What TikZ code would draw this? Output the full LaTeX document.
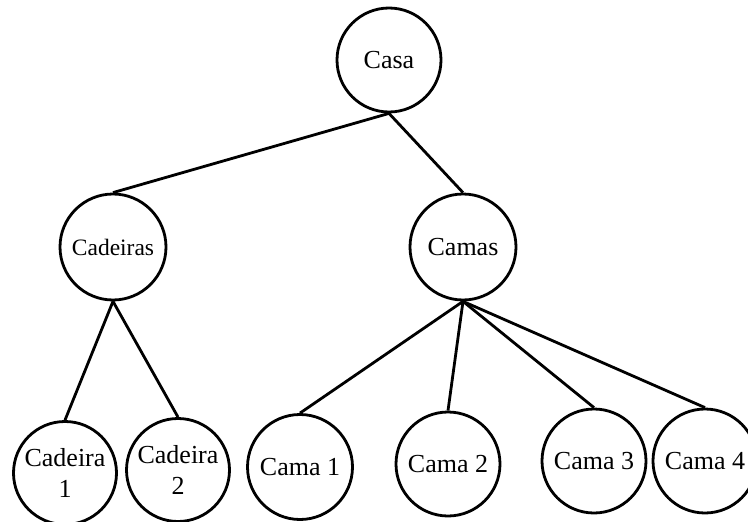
\documentclass[tikz,border=0pt]{standalone}
\usepackage{fontspec}
\setmainfont{Liberation Serif}
\begin{document}
\begin{tikzpicture}[x=1pt,y=-1pt,
  treenode/.style={draw=black, circle, line width=2.8pt, inner sep=0pt,
    minimum size=104pt, align=center, font=\fontsize{26}{31}\selectfont},
  edge/.style={line width=2.8pt}]
\useasboundingbox (0,0) rectangle (748,522);
% root
\node[treenode] (casa) at (389,60) {Casa};
% second level
\node[treenode, minimum size=106pt, font=\fontsize{23.5}{27}\selectfont] (cadeiras) at (113,247) {Cadeiras};
\node[treenode, minimum size=106pt] (camas) at (463,247) {Camas};
% leaves
\node[treenode, minimum size=103pt] (cad1) at (65,473) {Cadeira\\1};
\node[treenode, minimum size=103pt] (cad2) at (178,470) {Cadeira\\2};
\node[treenode, minimum size=105pt] (cama1) at (300,467) {Cama 1};
\node[treenode] (cama2) at (448,464) {Cama 2};
\node[treenode] (cama3) at (594,461) {Cama 3};
\node[treenode] (cama4) at (705,461) {Cama 4};
% connectors
\draw[edge] (casa.south) -- (cadeiras.north);
\draw[edge] (casa.south) -- (camas.north);
\draw[edge] (cadeiras.south) -- (cad1.north);
\draw[edge] (cadeiras.south) -- (cad2.north);
\foreach \c in {cama1,cama2,cama3,cama4}
  \draw[edge] (camas.south) -- (\c.north);
\end{tikzpicture}
\end{document}
